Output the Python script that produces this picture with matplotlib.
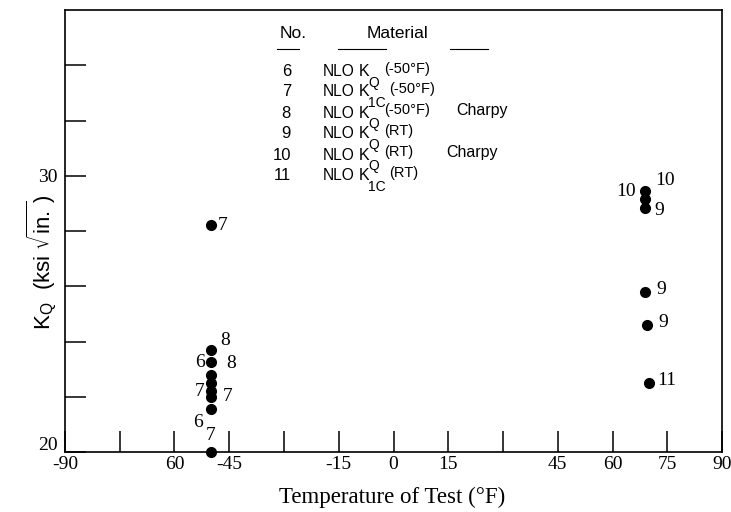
import matplotlib
matplotlib.use('Agg')
import matplotlib.pyplot as plt
from matplotlib.lines import Line2D
from matplotlib.transforms import ScaledTranslation

# test temperature (F) and K_Q (ksi sqrt(in.))
temps = [-50, -50, -50, -50, -50, -50, -50, -50, -50,
         69, 69, 69, 69, 69.5, 70]
kq = [28.2, 23.7, 23.25, 22.8, 22.5, 22.2, 22.0, 21.55, 20.0,
      29.45, 29.15, 28.85, 25.8, 24.6, 22.5]

# point numbers written next to the dots (text, offset in px)
point_labels = [
    [('7', 12, 0)],
    [('8', 14, 9)],
    [('6', -11, 0), ('8', 20, -1)],
    [],
    [],
    [('7', -11, 0)],
    [('7', 17, 0)],
    [('6', -13, -13)],
    [('7', 0, 16)],
    [('10', -19, -1), ('10', 20, 10)],
    [],
    [('9', 14, -3)],
    [('9', 16, 2)],
    [('9', 16, 2)],
    [('11', 18, 2)],
]

xticks = [-90, -75, -60, -45, -30, -15, 0, 15, 30, 45, 60, 75, 90]
xtick_labels = ['-90', '', '60', '-45', '', '-15', '0', '15', '', '45', '60', '75', '90']
yticks = [20, 22, 24, 26, 28, 30, 32, 34]
ytick_labels = ['20', '', '', '', '', '30', '', '']

# legend table
mat_no = ['6', '7', '8', '9', '10', '11']
mat_sub = ['Q', '1C', 'Q', 'Q', 'Q', '1C']
mat_cond = ['(-50°F)', '(-50°F)', '(-50°F)', '(RT)', '(RT)', '(RT)']
mat_extra = ['', '', 'Charpy', '', 'Charpy', '']

W, H = 731, 512
def fx(px):
    return px / W
def fy(py):
    return 1 - py / H

serif = 'Liberation Serif'
sans = 'Liberation Sans'

fig = plt.figure(figsize=(7.31, 5.12), dpi=100)
ax = fig.add_axes([fx(65), fy(452), fx(722) - fx(65), fy(10) - fy(452)])
ax.set_xlim(-90, 90)
ax.set_ylim(20, 36)

ax.plot(temps, kq, 'o', color='black', ms=7, clip_on=False, zorder=5)
for t, k, labs in zip(temps, kq, point_labels):
    for txt, dx, dy in labs:
        ax.annotate(txt, (t, k), xytext=(dx * 0.72, dy * 0.72), textcoords='offset points',
                    ha='center', va='center', fontsize=14, family=serif)

ax.set_xticks(xticks)
ax.set_xticklabels(xtick_labels, family=serif, fontsize=14)
ax.set_yticks(yticks)
ax.set_yticklabels(ytick_labels, family=serif, fontsize=14)
ax.tick_params(axis='both', direction='in', length=15, width=1.1, color='black')
ax.tick_params(axis='x', pad=3)
ax.tick_params(axis='y', pad=5)
for s in ax.spines.values():
    s.set_linewidth(1.2)
# the "20" sits a little above the bottom axis line
lab20 = ax.get_yticklabels()[0]
lab20.set_transform(lab20.get_transform() + ScaledTranslation(0, 0.09, fig.dpi_scale_trans))

fig.text(fx(392), fy(497), 'Temperature of Test (°F)', family=serif, fontsize=16.5,
         ha='center', va='center')
fig.text(fx(42), fy(262), r'K$_\mathregular{Q}$  (ksi $\sqrt{\mathregular{in.}}$)', family=sans,
         fontsize=16, rotation=90, ha='center', va='center')

# legend block
fig.text(fx(293), fy(34), 'No.', family=sans, fontsize=12.5, ha='center', va='center')
fig.text(fx(398), fy(34), 'Material', family=sans, fontsize=12.5, ha='center', va='center')
for x0, x1 in [(277, 299), (338, 386), (450, 488)]:
    fig.add_artist(Line2D([fx(x0), fx(x1)], [fy(49), fy(49)], color='black', lw=0.8))
row_y = [72, 92, 113, 134, 155, 176]
for n, sub, cond, extra, y in zip(mat_no, mat_sub, mat_cond, mat_extra, row_y):
    fig.text(fx(291), fy(y), n, family=sans, fontsize=12, ha='right', va='center')
    fig.text(fx(323), fy(y), 'NLO', family=sans, fontsize=11.2, ha='left', va='center')
    fig.text(fx(359), fy(y), 'K', family=sans, fontsize=11.5, ha='left', va='center')
    fig.text(fx(368), fy(y + 11), sub, family=sans, fontsize=10, ha='left', va='center')
    xc = 384 if sub == 'Q' else 389
    fig.text(fx(xc), fy(y - 3), cond, family=sans, fontsize=10.5, ha='left', va='center')
    if extra:
        fig.text(fx(456 if n == '8' else 446), fy(y - 3), extra, family=sans,
                 fontsize=11.5, ha='left', va='center')

fig.savefig('out.png', dpi=100)
